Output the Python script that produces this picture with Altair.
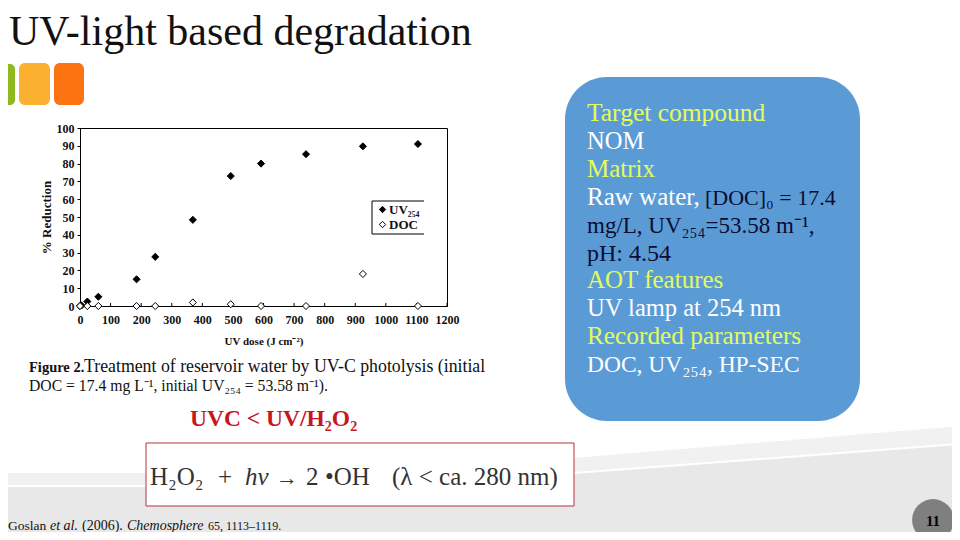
import altair as alt
import pandas as pd

# ---- scatter data ----
uv_dose = [0, 5, 24, 60, 185, 246, 369, 493, 592, 739, 925, 1105]
uv254 = [0, 0.3, 2.5, 5.2, 15, 27.6, 48.4, 73, 80, 85.3, 89.7, 91]
doc_dose = [0, 24, 60, 185, 246, 369, 493, 592, 739, 925, 1105]
doc = [0, 0, 0, 0, 0, 2, 1, 0, 0, 18, 0]
x_ticks = list(range(0, 1201, 100))
y_ticks = list(range(0, 101, 10))
UV = "UV₂₅₄"
DOC = "DOC"

# ---- slide background band ----
band_x = [0, 146, 574, 960]
band_top = [473, 473, 458, 426]
band_line = [485, 485, 472, 443]
band_low = [487, 487, 474, 445]
band_bottom = [540, 540, 540, 540]

# ---- plot placement on the slide ----
PL, PR, PT, PB = 80, 447, 128, 306
W, H = PR - PL, PB - PT
SERIF = "Liberation Serif"
YEL, WHT, NAVY = "#e4fb5e", "#ffffff", "#0b0b33"

df = pd.concat([
    pd.DataFrame({"dose": uv_dose, "red": uv254, "s": UV}),
    pd.DataFrame({"dose": doc_dose, "red": doc, "s": DOC}),
])
bdf = pd.DataFrame({"x": band_x, "top": band_top, "line": band_line,
                    "low": band_low, "bot": band_bottom})


def vx(p):
    return alt.value(p - PL)


def vy(p):
    return alt.value(p - PT)


def label(px, py, s, size, color="#111111", weight="normal", style="normal", align="left", angle=0):
    return alt.Chart(alt.Data(values=[{"t": s}])).mark_text(
        font=SERIF, fontSize=size, color=color, fontWeight=weight, fontStyle=style,
        align=align, baseline="alphabetic", angle=angle,
    ).encode(x=vx(px), y=vy(py), text="t:N")


def box(x0, x1, y0, y1, fill, radius=0, stroke=None, sw=0):
    kw = dict(fill=fill, cornerRadius=radius)
    if stroke:
        kw.update(stroke=stroke, strokeWidth=sw)
    return alt.Chart(alt.Data(values=[{"a": 1}])).mark_rect(**kw).encode(
        x=vx(x0), x2=vx(x1), y=vy(y0), y2=vy(y1))


def seg(x0, x1, y0, y1):
    return alt.Chart(alt.Data(values=[{"a": 1}])).mark_rule(color="black", strokeWidth=1).encode(
        x=vx(x0), x2=vx(x1), y=vy(y0), y2=vy(y1))


sx = alt.Scale(domain=[0, 960], range=[-PL, 960 - PL], nice=False, zero=False)
sy = alt.Scale(domain=[0, 540], range=[-PT, 540 - PT], nice=False, zero=False)


def band(y1, y2, color):
    return alt.Chart(bdf).mark_area(color=color, opacity=1).encode(
        x=alt.X("x:Q", scale=sx, axis=None),
        y=alt.Y(f"{y1}:Q", scale=sy, axis=None),
        y2=alt.Y2(f"{y2}:Q"),
    )


deco = [
    band("top", "line", "#f1f1f1"),
    band("low", "bot", "#e8e8e8"),
    box(0, 15, 64, 105, "#8dbb1f", 5),
    box(19, 50, 63, 105, "#fcb02f", 6),
    box(54, 84, 63, 105, "#fb7411", 6),
    box(565, 860, 77, 421, "#5b9bd5", 42),
    box(146, 574, 443, 506, "#ffffff", 0, "#b5323a", 1),
    alt.Chart(alt.Data(values=[{"a": 1}])).mark_point(
        shape="circle", filled=True, color="#7f7f7f", opacity=1, size=1750
    ).encode(x=vx(933), y=vy(520)),
]

EQ = "#333333"
texts = [
    label(9, 45, "UV-light based degradation", 42),
    label(29, 372, "Figure 2.", 14.5, weight="bold"),
    label(84, 372, "Treatment of reservoir water by UV-C photolysis (initial", 17.8),
    label(29, 391, "DOC = 17.4 mg L⁻¹, initial UV₂₅₄ = 53.58 m⁻¹).", 15.7),
    label(190, 426, "UVC < UV/H₂O₂", 23.5, color="#c8161d", weight="bold"),
    label(150, 485, "H₂O₂", 25, color=EQ),
    label(218, 485, "+", 25, color=EQ),
    label(245, 485, "hν", 25, color=EQ, style="italic"),
    label(276, 485, "→", 22, color=EQ),
    label(306, 485, "2", 25, color=EQ),
    label(325, 485, "•OH", 25, color=EQ),
    label(392, 485, "(λ < ca. 280 nm)", 25, color=EQ),
    label(8, 530, "Goslan", 13.5),
    label(50, 530, "et al.", 14, style="italic"),
    label(82, 530, "(2006).", 14),
    label(127, 530, "Chemosphere", 14, style="italic"),
    label(208, 530, "65, 1113–1119.", 12),
    label(587, 121, "Target compound", 25.5, color=YEL),
    label(587, 149, "NOM", 24.5, color=WHT),
    label(587, 177, "Matrix", 25, color=YEL),
    label(587, 205, "Raw water,", 25, color=WHT),
    label(705, 205, "[DOC]₀ = 17.4", 22, color=NAVY),
    label(587, 233, "mg/L, UV₂₅₄=53.58 m⁻¹,", 23, color=NAVY),
    label(587, 261, "pH: 4.54", 24, color=NAVY),
    label(587, 288, "AOT features", 25, color=YEL),
    label(587, 316, "UV lamp at 254 nm", 24.5, color=WHT),
    label(587, 344, "Recorded parameters", 25.3, color=YEL),
    label(587, 372, "DOC, UV₂₅₄, HP-SEC", 23.5, color=WHT),
    label(933, 526, "11", 15, color="#000000", weight="bold", align="center"),
]

# ---- the scatter itself ----
x_enc = alt.X(
    "dose:Q",
    scale=alt.Scale(domain=[0, 1200], nice=False),
    axis=alt.Axis(
        values=x_ticks, title="UV dose (J cm⁻²)", grid=False, tickSize=0, labelPadding=8,
        titlePadding=10, labelFont=SERIF, titleFont=SERIF, labelFontSize=12, titleFontSize=11,
        labelFontWeight="bold", titleFontWeight="bold", labelColor="#111111", titleColor="#111111",
        domainColor="black", labelOverlap=False, labelFlush=False, format="d",
    ),
)
y_enc = alt.Y(
    "red:Q",
    scale=alt.Scale(domain=[0, 100], nice=False),
    axis=alt.Axis(
        values=y_ticks, title="% Reduction", grid=False, tickSize=3, tickColor="black", labelPadding=3,
        titlePadding=3, labelFont=SERIF, titleFont=SERIF, labelFontSize=12, titleFontSize=13,
        labelFontWeight="bold", titleFontWeight="bold", labelColor="#111111", titleColor="#111111",
        domainColor="black",
    ),
)
scatter = alt.Chart(df).mark_point(shape="diamond", filled=True, stroke="black", strokeWidth=1, opacity=1, size=50).encode(
    x=x_enc,
    y=y_enc,
    fill=alt.Fill(
        "s:N",
        scale=alt.Scale(domain=[UV, DOC], range=["#000000", "#ffffff"]),
        legend=alt.Legend(
            orient="none", legendX=372 - PL + 2, legendY=201 - PT, title=None,
            symbolType="diamond", symbolSize=40, symbolStrokeColor="black", symbolStrokeWidth=1,
            labelFont=SERIF, labelFontSize=13, labelFontWeight="bold", labelColor="#111111",
            labelOffset=0, rowPadding=1, padding=2,
        ),
    ),
)
ticks = alt.Chart(pd.DataFrame({"t": x_ticks})).mark_rule(color="black", strokeWidth=1).encode(
    x=alt.X("t:Q", scale=alt.Scale(domain=[0, 1200], nice=False), axis=None),
    y=alt.value(H - 3),
    y2=alt.value(H),
)
frame = [seg(372, 424, 201, 201), seg(372, 424, 234, 234), seg(372, 372, 201, 234)]

chart = alt.layer(*deco, *texts, ticks, scatter, *frame).resolve_scale(
    x="independent", y="independent"
).properties(
    width=W, height=H,
    padding={"left": PL - 8, "top": PT - 8, "right": 960 - PR - 8, "bottom": 540 - PB - 8},
    autosize=alt.AutoSizeParams(type="none"),
    background="white",
).configure_view(stroke="black", strokeWidth=1)

chart.save("out.html", embed_options={"renderer": "svg", "actions": False})
